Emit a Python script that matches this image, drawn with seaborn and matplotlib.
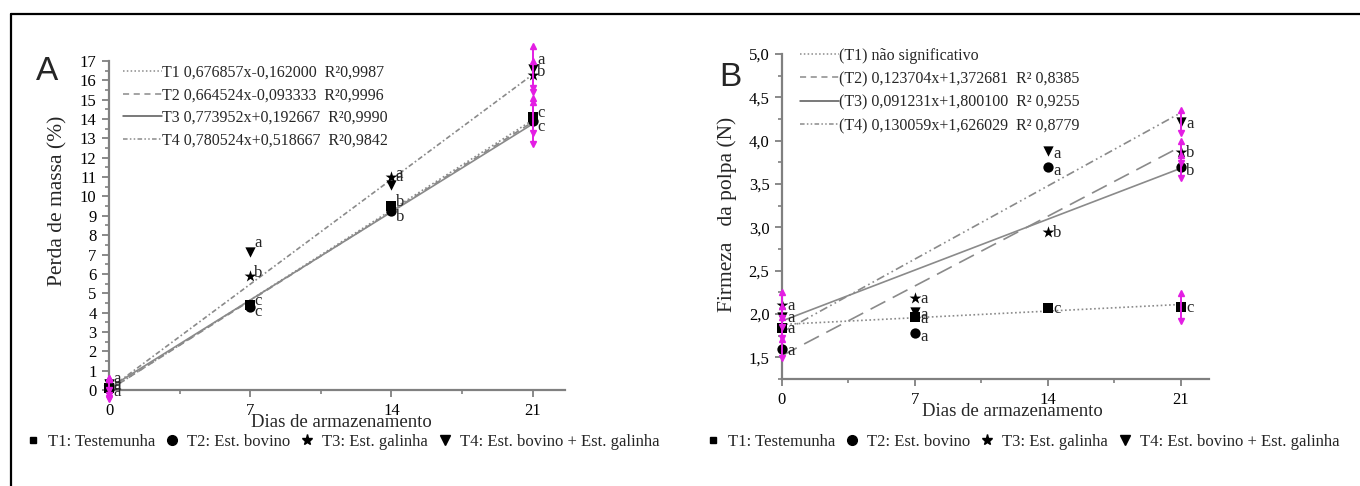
import numpy as np
import pandas as pd
import matplotlib
matplotlib.use("Agg")
import matplotlib.pyplot as plt
import seaborn as sns
from matplotlib.lines import Line2D
from matplotlib.ticker import MultipleLocator, FixedLocator, FuncFormatter

# ---------------- data ----------------
days = [0, 7, 14, 21]
treatments = ["T1", "T2", "T3", "T4"]

# Panel A: Perda de massa (%)
perda_T1 = [0.10, 4.40, 9.50, 14.10]
perda_T2 = [0.05, 4.30, 9.25, 13.90]
perda_T3 = [0.15, 5.90, 11.00, 16.30]
perda_T4 = [0.30, 7.15, 10.60, 16.60]
perda_err_T1 = [0.5, 0.0, 0.0, 0.8]
perda_err_T2 = [0.5, 0.0, 0.0, 1.2]
perda_err_T3 = [0.4, 0.0, 0.0, 0.7]
perda_err_T4 = [0.3, 0.0, 0.0, 1.2]
perda_let_T1 = ["a", "c", "b", "c"]
perda_let_T2 = ["a", "c", "b", "c"]
perda_let_T3 = ["a", "b", "a", "b"]
perda_let_T4 = ["a", "a", "a", "a"]
# fitted lines as drawn (values at day 0 and day 21)
fit_days = [0, 21]
perda_fit_T1 = [0.00, 13.95]
perda_fit_T2 = [0.00, 13.85]
perda_fit_T3 = [0.10, 13.75]
perda_fit_T4 = [0.05, 16.30]
perda_eq = ["T1 0,676857x-0,162000  R²0,9987",
            "T2 0,664524x-0,093333  R²0,9996",
            "T3 0,773952x+0,192667  R²0,9990",
            "T4 0,780524x+0,518667  R²0,9842"]

# Panel B: Firmeza da polpa (N)
firm_T1 = [1.84, 1.96, 2.07, 2.08]
firm_T2 = [1.60, 1.78, 3.70, 3.70]
firm_T3 = [2.10, 2.19, 2.95, 3.87]
firm_T4 = [1.97, 2.02, 3.88, 4.22]
firm_err_T1 = [0.12, 0.0, 0.0, 0.16]
firm_err_T2 = [0.11, 0.0, 0.0, 0.13]
firm_err_T3 = [0.15, 0.0, 0.0, 0.13]
firm_err_T4 = [0.12, 0.0, 0.0, 0.13]
firm_let_T1 = ["a", "a", "c", "c"]
firm_let_T2 = ["a", "a", "a", "b"]
firm_let_T3 = ["a", "a", "b", "b"]
firm_let_T4 = ["a", "a", "a", "a"]
firm_fit_T1 = [1.88, 2.11]
firm_fit_T2 = [1.52, 3.93]
firm_fit_T3 = [1.92, 3.68]
firm_fit_T4 = [1.79, 4.32]
firm_eq = ["(T1) não significativo",
           "(T2) 0,123704x+1,372681  R² 0,8385",
           "(T3) 0,091231x+1,800100  R² 0,9255",
           "(T4) 0,130059x+1,626029  R² 0,8779"]

legend_labels = ["T1: Testemunha", "T2: Est. bovino", "T3: Est. galinha",
                 "T4: Est. bovino + Est. galinha"]

# ---------------- style ----------------
sns.set_theme(style="white")
plt.rcParams["font.family"] = ["Liberation Serif", "DejaVu Serif"]
plt.rcParams["axes.unicode_minus"] = False

GRAY = "#808080"
LINEGRAY = "#8a8a8a"
MAG = "#e31ee3"
markers = {"T1": "s", "T2": "o", "T3": "*", "T4": "v"}
msizes = {"T1": 45, "T2": 55, "T3": 80, "T4": 55}
fit_styles_A = {"T1": (0, (1, 1.5)), "T2": (0, (4, 3)), "T3": "-", "T4": (0, (3, 1.5, 1, 1.5))}
fit_styles_B = {"T1": (0, (1, 1.5)), "T2": (0, (10, 5)), "T3": "-", "T4": (0, (5, 2, 1, 2, 1, 2))}
leg_styles = {"T1": (0, (1, 1.5)), "T2": (0, (4, 3)), "T3": "-", "T4": (0, (3, 1.5, 1, 1.5, 1, 1.5))}


def build(vals, errs, lets):
    rows = []
    for t in treatments:
        for d, v, e, l in zip(days, vals[t], errs[t], lets[t]):
            rows.append({"trat": t, "dia": d, "valor": v, "err": e, "letra": l})
    return pd.DataFrame(rows)


dfA = build({"T1": perda_T1, "T2": perda_T2, "T3": perda_T3, "T4": perda_T4},
            {"T1": perda_err_T1, "T2": perda_err_T2, "T3": perda_err_T3, "T4": perda_err_T4},
            {"T1": perda_let_T1, "T2": perda_let_T2, "T3": perda_let_T3, "T4": perda_let_T4})
dfB = build({"T1": firm_T1, "T2": firm_T2, "T3": firm_T3, "T4": firm_T4},
            {"T1": firm_err_T1, "T2": firm_err_T2, "T3": firm_err_T3, "T4": firm_err_T4},
            {"T1": firm_let_T1, "T2": firm_let_T2, "T3": firm_let_T3, "T4": firm_let_T4})
fitsA = {"T1": perda_fit_T1, "T2": perda_fit_T2, "T3": perda_fit_T3, "T4": perda_fit_T4}
fitsB = {"T1": firm_fit_T1, "T2": firm_fit_T2, "T3": firm_fit_T3, "T4": firm_fit_T4}

fig = plt.figure(figsize=(13.6, 4.86), dpi=100)
W, H = 1360, 486
axA = fig.add_axes([109 / W, (H - 390) / H, 456 / W, 329 / H])
axB = fig.add_axes([782 / W, (H - 379) / H, 427 / W, 325 / H])


def draw_panel(ax, df, fits, styles, let_offsets):
    for t in treatments:
        sns.lineplot(x=fit_days, y=fits[t], ax=ax, color=LINEGRAY, lw=1.2,
                     linestyle=styles[t], dashes=False, legend=False, zorder=2)
    for t in treatments:
        sub = df[df.trat == t]
        sns.scatterplot(data=sub, x="dia", y="valor", marker=markers[t], s=msizes[t],
                        color="black", edgecolor="black", linewidth=0, ax=ax,
                        legend=False, zorder=5)
    for c in ax.collections:
        c.set_clip_on(False)
    for line in ax.lines:
        line.set_clip_on(False)
    # error bars (magenta) where present
    eb = df[df.err > 0]
    ax.errorbar(eb.dia, eb.valor, yerr=eb.err, fmt="none", ecolor=MAG,
                elinewidth=1.4, capsize=0, zorder=6, clip_on=False)
    ax.plot(eb.dia, eb.valor + eb.err, ls="none", marker="^", ms=4, color=MAG,
            zorder=6, clip_on=False)
    ax.plot(eb.dia, eb.valor - eb.err, ls="none", marker="v", ms=4, color=MAG,
            zorder=6, clip_on=False)
    for _, r in df.iterrows():
        off = let_offsets[r.trat]
        if r.dia == 0:
            off = (off[0], off[1] * 0.6)
        ax.annotate(r.letra, (r.dia, r.valor), xytext=off,
                    textcoords="offset points", fontsize=12, ha="left",
                    va="center", annotation_clip=False, zorder=7)


draw_panel(axA, dfA, fitsA, fit_styles_A,
           {"T1": (3, 3), "T2": (3, -4), "T3": (3, 2), "T4": (3, 6)})
draw_panel(axB, dfB, fitsB, fit_styles_B,
           {"T1": (4, -1), "T2": (4, -3), "T3": (4, -1), "T4": (4, -2)})

comma = FuncFormatter(lambda v, p: f"{v:.1f}".replace(".", ","))

for ax, xl in ((axA, 0.51), (axB, 0.54)):
    sns.despine(ax=ax)
    for s in ("left", "bottom"):
        ax.spines[s].set_color(GRAY)
        ax.spines[s].set_linewidth(1.6)
    ax.xaxis.set_major_locator(FixedLocator(days))
    ax.xaxis.set_minor_locator(MultipleLocator(3.5))
    ax.tick_params(axis="both", which="major", direction="out", length=5, width=1.3,
                   color=GRAY, labelsize=12, labelcolor="black", pad=4,
                   bottom=True, left=True)
    ax.tick_params(axis="both", which="minor", direction="out", length=3, width=1.2,
                   color=GRAY, bottom=True, left=True)
    ax.set_xlabel("Dias de armazenamento", fontsize=13.5, labelpad=-3, x=xl,
                  ha="center")
    ax.set_facecolor("white")

axA.set_xlim(0, 22.6)
axA.set_ylim(0, 17)
axA.yaxis.set_major_locator(MultipleLocator(1))
axA.yaxis.set_minor_locator(MultipleLocator(0.5))
axA.set_ylabel("Perda de massa (%)", fontsize=15.5)
axA.yaxis.set_label_coords(-0.09, 0.574)

axB.set_xlim(0, 22.5)
axB.set_ylim(1.25, 5.0)
axB.yaxis.set_major_locator(MultipleLocator(0.5))
axB.yaxis.set_minor_locator(MultipleLocator(0.25))
axB.yaxis.set_major_formatter(comma)
axB.set_ylabel("Firmeza   da polpa (N)", fontsize=15.5)
axB.yaxis.set_label_coords(-0.106, 0.508)

# equation legends
def eq_legend(ax, labels, anchor, spacing):
    hs = [Line2D([], [], color=LINEGRAY if t != "T3" else "#555555", lw=1.1,
                 linestyle=leg_styles[t]) for t in treatments]
    ax.legend(hs, labels, loc="upper left", bbox_to_anchor=anchor, frameon=False,
              fontsize=11.5, handlelength=2.45, handletextpad=0.0,
              labelspacing=spacing, borderpad=0, borderaxespad=0)

eq_legend(axA, perda_eq, (0.031, 0.99), 0.43)
eq_legend(axB, firm_eq, (0.042, 1.02), 0.47)

# bottom marker legends
mk_size = {"T1": 5, "T2": 7, "T3": 8, "T4": 7.5}
mh = [Line2D([], [], ls="none", marker=markers[t], ms=mk_size[t], color="black")
      for t in treatments]
for cx in (343 / W, 1023 / W):
    fig.legend(mh, legend_labels, loc="center", bbox_to_anchor=(cx, (H - 442) / H),
               ncol=4, frameon=False, fontsize=12, handlelength=0.8,
               handletextpad=0.5, columnspacing=0.6, borderpad=0)

# panel letters
fig.text(47 / W, 1 - 71 / H, "A", fontsize=24, family="Liberation Sans",
         ha="center", va="center")
fig.text(730 / W, 1 - 77 / H, "B", fontsize=24, family="Liberation Sans",
         ha="center", va="center")

# outer frame (top and left edges)
fig.add_artist(Line2D([11 / W, 1.0], [1 - 14 / H, 1 - 14 / H], transform=fig.transFigure,
                      color="black", lw=1.6))
fig.add_artist(Line2D([11 / W, 11 / W], [0.0, 1 - 14 / H], transform=fig.transFigure,
                      color="black", lw=1.6))

fig.savefig("out.png", dpi=100, facecolor="white")
